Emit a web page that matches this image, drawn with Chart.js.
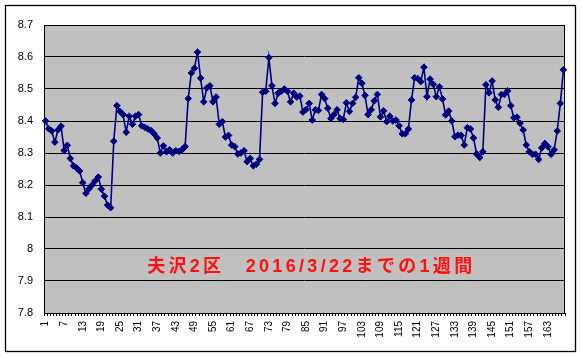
<!DOCTYPE html>
<html>
<head>
<meta charset="utf-8">
<script src="https://cdn.jsdelivr.net/npm/chart.js@4/dist/chart.umd.min.js"></script>
<style>
html,body{margin:0;padding:0;background:#fff;}
#wrap{width:581px;height:357px;position:relative;}
</style>
</head>
<body>
<div id="wrap"><canvas id="c" width="581" height="357"></canvas></div>
<script>
const categories = [
  1,2,3,4,5,6,7,8,9,10,11,12,13,14,15,16,17,18,19,20,
  21,22,23,24,25,26,27,28,29,30,31,32,33,34,35,36,37,38,39,40,
  41,42,43,44,45,46,47,48,49,50,51,52,53,54,55,56,57,58,59,60,
  61,62,63,64,65,66,67,68,69,70,71,72,73,74,75,76,77,78,79,80,
  81,82,83,84,85,86,87,88,89,90,91,92,93,94,95,96,97,98,99,100,
  101,102,103,104,105,106,107,108,109,110,111,112,113,114,115,116,117,118,119,120,
  121,122,123,124,125,126,127,128,129,130,131,132,133,134,135,136,137,138,139,140,
  141,142,143,144,145,146,147,148,149,150,151,152,153,154,155,156,157,158,159,160,
  161,162,163,164,165,166,167,168
];

const values = [
  8.400,8.376,8.369,8.334,8.372,8.384,8.308,8.324,8.283,8.260,
  8.253,8.244,8.207,8.174,8.188,8.200,8.213,8.225,8.187,8.165,
  8.137,8.129,8.337,8.448,8.430,8.420,8.365,8.415,8.390,8.415,
  8.420,8.385,8.380,8.375,8.370,8.360,8.347,8.300,8.322,8.304,
  8.310,8.300,8.307,8.305,8.310,8.320,8.470,8.550,8.565,8.615,
  8.534,8.460,8.503,8.510,8.460,8.475,8.390,8.398,8.350,8.355,
  8.325,8.320,8.297,8.300,8.307,8.273,8.283,8.260,8.265,8.280,
  8.490,8.493,8.598,8.510,8.455,8.487,8.493,8.500,8.493,8.460,
  8.487,8.475,8.478,8.428,8.436,8.455,8.403,8.435,8.433,8.483,
  8.470,8.440,8.408,8.420,8.435,8.408,8.405,8.457,8.430,8.455,
  8.474,8.535,8.518,8.480,8.420,8.435,8.463,8.483,8.413,8.432,
  8.398,8.415,8.400,8.403,8.385,8.360,8.360,8.375,8.466,8.535,
  8.533,8.523,8.568,8.476,8.531,8.515,8.476,8.507,8.469,8.419,
  8.431,8.400,8.351,8.356,8.355,8.325,8.379,8.375,8.347,8.297,
  8.286,8.304,8.513,8.488,8.525,8.466,8.443,8.483,8.483,8.494,
  8.448,8.410,8.412,8.393,8.372,8.325,8.304,8.296,8.296,8.280,
  8.316,8.330,8.320,8.296,8.310,8.369,8.455,8.560
];

const xTickLabels = [1,7,13,19,25,31,37,43,49,55,61,67,73,79,85,91,97,103,109,115,121,127,133,139,145,151,157,163];
const yTickLabels = ['7.8','7.9','8','8.1','8.2','8.3','8.4','8.5','8.6','8.7'];
const yMin = 7.8, yMax = 8.7, yStep = 0.1;
const annotationText = '夫沢2区　2016/3/22までの1週間';
const annotationValue = 7.944;

const decor = {
  id: 'decor',
  beforeDraw(chart) {
    const ctx = chart.ctx, a = chart.chartArea;
    ctx.save();
    ctx.fillStyle = '#ffffff';
    ctx.fillRect(0, 0, chart.width, chart.height);
    ctx.fillStyle = '#c0c0c0';
    ctx.fillRect(a.left, a.top, a.right - a.left, a.bottom - a.top);
    ctx.restore();
  },
  beforeDatasetsDraw(chart) {
    const ctx = chart.ctx, a = chart.chartArea;
    ctx.save();
    ctx.strokeStyle = '#000';
    ctx.lineWidth = 1;
    ctx.strokeRect(Math.round(a.left) + 0.5, Math.round(a.top) + 0.5,
                   Math.round(a.right - a.left) - 1, Math.round(a.bottom - a.top));
    ctx.restore();
  },
  afterDraw(chart) {
    const ctx = chart.ctx, a = chart.chartArea;
    ctx.save();
    ctx.strokeStyle = '#000';
    ctx.lineWidth = 1.3;
    ctx.strokeRect(5.5, 5.5, chart.width - 11, chart.height - 11);
    // annotation text
    const y = chart.scales.y.getPixelForValue(annotationValue);
    ctx.font = 'bold 18px "Liberation Sans", "Noto Sans CJK JP", sans-serif';
    ctx.fillStyle = '#ff1010';
    ctx.textBaseline = 'middle';
    ctx.textAlign = 'left';
    const w0 = ctx.measureText(annotationText).width;
    const targetW = (a.right - a.left) * 0.63;
    const n = [...annotationText].length;
    ctx.letterSpacing = ((targetW - w0) / n).toFixed(2) + 'px';
    const x = a.left + (a.right - a.left) * 0.198;
    ctx.fillText(annotationText, x, y);
    ctx.restore();
  }
};

new Chart(document.getElementById('c'), {
  type: 'line',
  data: {
    labels: categories,
    datasets: [{
      data: values,
      borderColor: '#000080',
      borderWidth: 1.6,
      pointStyle: 'rectRot',
      pointRadius: 3.3,
      pointBorderWidth: 1,
      pointBackgroundColor: '#000080',
      pointBorderColor: '#000080',
      tension: 0,
      fill: false
    }]
  },
  options: {
    responsive: false,
    devicePixelRatio: 1,
    animation: false,
    layout: { padding: { top: 25, right: 16, left: 0, bottom: 0 } },
    plugins: { legend: { display: false }, tooltip: { enabled: false }, title: { display: false } },
    scales: {
      x: {
        type: 'category',
        offset: true,
        afterFit(s) { s.height = 44; },
        grid: { display: true, drawOnChartArea: false, drawTicks: true, tickLength: 3, offset: true, color: '#000', lineWidth: 1 },
        border: { display: true, color: '#000' },
        ticks: {
          autoSkip: false,
          minRotation: 90,
          maxRotation: 90,
          padding: 5,
          color: '#000',
          font: { family: 'Arial, "Liberation Sans", sans-serif', size: 10 },
          callback(v, i) {
            const c = categories[i];
            return xTickLabels.includes(c) ? String(c) : '';
          }
        }
      },
      y: {
        type: 'linear',
        min: yMin,
        max: yMax,
        afterFit(s) { s.width = 44; },
        grid: { color: '#000', lineWidth: 1, drawTicks: false },
        border: { display: false },
        ticks: {
          stepSize: yStep,
          padding: 11,
          color: '#000',
          font: { family: 'Arial, "Liberation Sans", sans-serif', size: 11 },
          callback(v, i) { return yTickLabels[i]; }
        }
      }
    }
  },
  plugins: [decor]
});
</script>
</body>
</html>
